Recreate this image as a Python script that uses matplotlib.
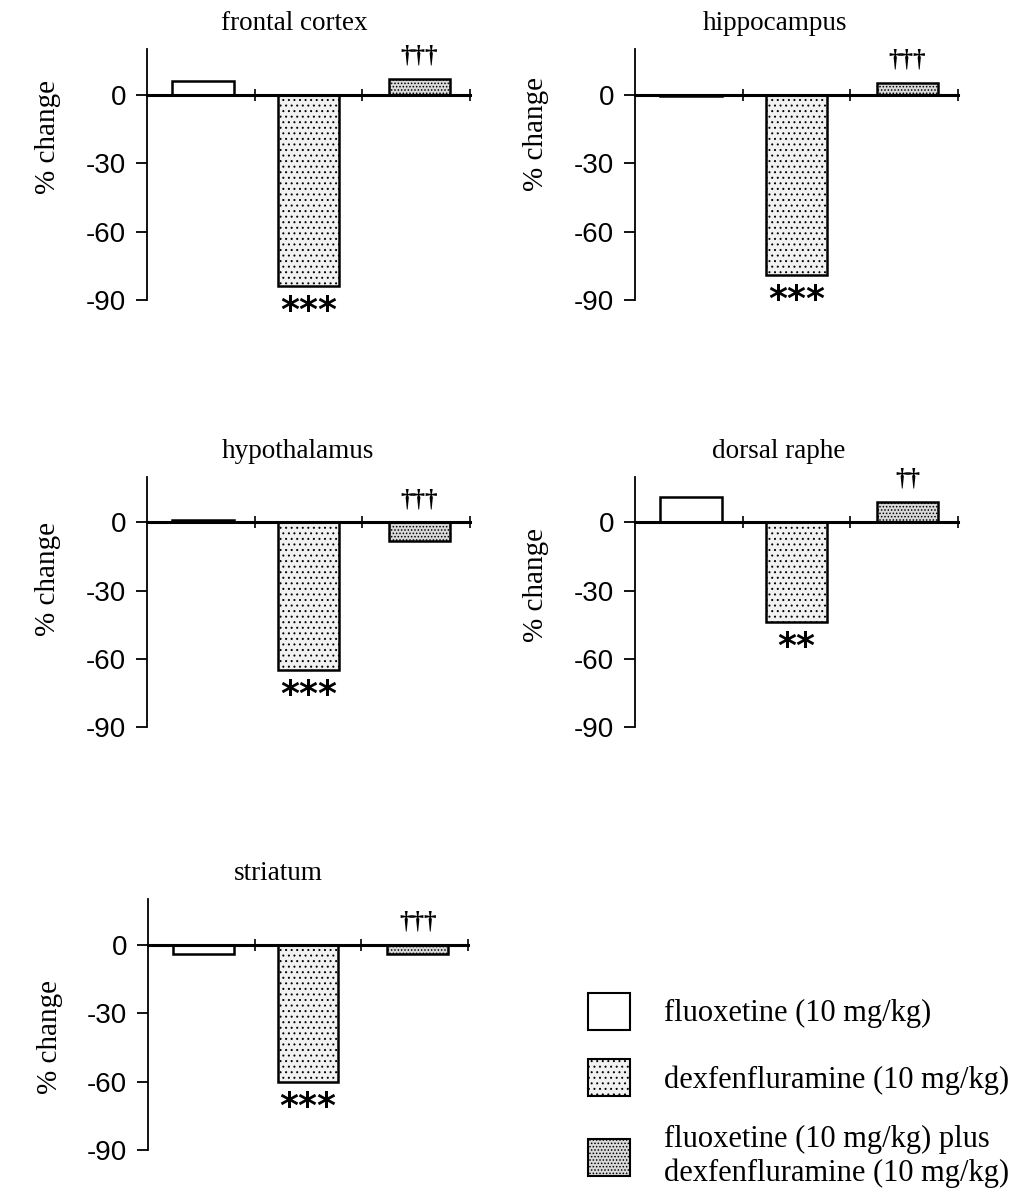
import matplotlib
matplotlib.use("Agg")
import matplotlib.pyplot as plt
from matplotlib.patches import Patch

# data (% change vs control)
regions = ["frontal cortex", "hippocampus", "hypothalamus", "dorsal raphe", "striatum"]
fluoxetine = [6, -0.8, 1, 11, -4]
dexfenfluramine = [-84, -79, -65, -44, -60]
combination = [7, 5, -8, 9, -4]
stars = ["***", "***", "***", "**", "***"]
daggers = ["†††", "†††", "†††", "††", "†††"]
yticks = [0, -30, -60, -90]

series_labels = ["fluoxetine (10 mg/kg)", "dexfenfluramine (10 mg/kg)",
                 "fluoxetine (10 mg/kg) plus\ndexfenfluramine (10 mg/kg)"]
face = ["white", "#f1f1f1", "#d9d9d9"]
hatch = [None, "...", "....."]

W, H = 1015, 1193
# axes boxes in pixels: left, top, width, height
boxes = [(147, 49, 323, 251), (635, 49, 323, 251),
         (147, 477, 323, 250), (635, 477, 323, 250),
         (148, 899, 320, 251)]
title_x = [1.37, 1.30, 1.40, 1.33, 1.22]
ylab_y = [0.65, 0.66, 0.59, 0.57, 0.45]

plt.rcParams["hatch.linewidth"] = 0.7
serif = ["Liberation Serif", "DejaVu Serif"]
sans = ["Liberation Sans", "DejaVu Sans"]

fig = plt.figure(figsize=(W / 100, H / 100), dpi=100)

for i, name in enumerate(regions):
    l, t, w, h = boxes[i]
    ax = fig.add_axes([l / W, 1 - (t + h) / H, w / W, h / H])
    vals = [fluoxetine[i], dexfenfluramine[i], combination[i]]
    xs = [0.52, 1.5, 2.53]
    for x, v, fc, ht in zip(xs, vals, face, hatch):
        ax.bar(x, v, width=0.57, color=fc, edgecolor="black", linewidth=1.8, hatch=ht, zorder=2)
    ax.set_xlim(0, 3)
    ax.set_ylim(-90, 20)
    for s in ["top", "right"]:
        ax.spines[s].set_visible(False)
    ax.spines["bottom"].set_position(("data", 0))
    ax.spines["bottom"].set_linewidth(2.2)
    ax.spines["bottom"].set_zorder(3)
    ax.spines["left"].set_linewidth(1.3)
    ax.set_xticks([1, 2, 3])
    ax.set_xticklabels([])
    ax.tick_params(axis="x", direction="inout", length=9, width=1.2)
    ax.set_yticks(yticks)
    ax.set_yticklabels([str(v) for v in yticks], fontfamily=sans, fontsize=20)
    ax.tick_params(axis="y", direction="out", length=8, width=1.3, pad=7)
    ax.set_ylabel("% change", fontfamily=serif, fontsize=21)
    ax.yaxis.set_label_coords(-0.265, ylab_y[i])
    ax.text(title_x[i], 20 + 11, name, ha="center", va="center",
            fontfamily=serif, fontsize=19.5, clip_on=False)
    ax.text(xs[1], dexfenfluramine[i] - 11, stars[i], ha="center", va="center",
            fontfamily="DejaVu Sans", fontsize=26, fontweight="bold")
    ax.text(xs[2], max(combination[i], 0) + 10, daggers[i], ha="center", va="center",
            fontfamily=serif, fontsize=18, fontweight="bold")

handles = [Patch(facecolor=fc, edgecolor="black", linewidth=1.5, hatch=ht)
           for fc, ht in zip(face, hatch)]
fig.legend(handles, series_labels, loc="upper left",
           bbox_to_anchor=(560 / W, 1 - 965 / H), frameon=False,
           prop={"family": serif, "size": 22}, handlelength=1.4, handleheight=1.5,
           handletextpad=1.1, labelspacing=0.95)

fig.savefig("out.png", dpi=100)
